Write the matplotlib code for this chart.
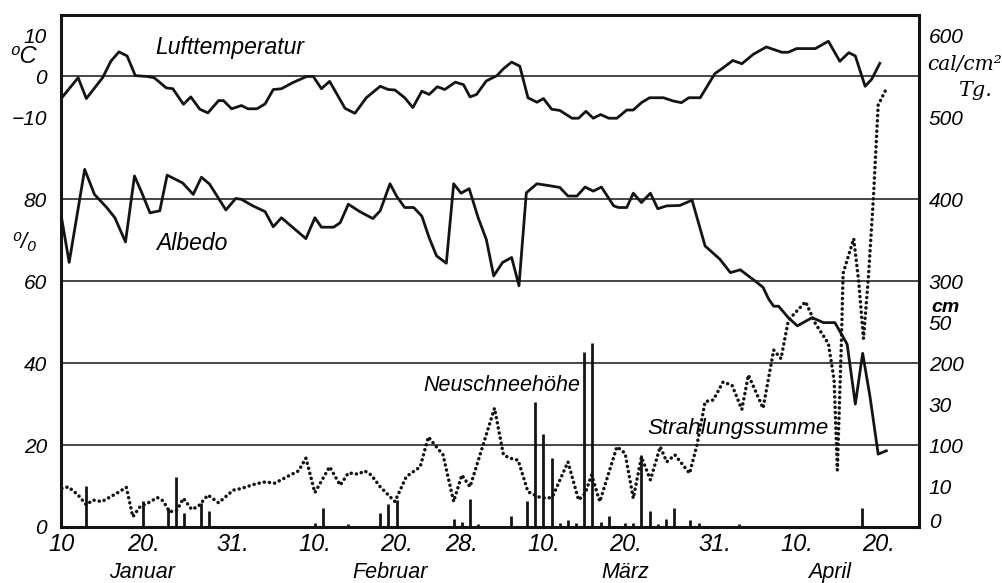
import matplotlib
matplotlib.use("Agg")
import matplotlib.pyplot as plt
from matplotlib.transforms import blended_transform_factory

plt.rcParams['font.family'] = ['Liberation Sans', 'DejaVu Sans']
plt.rcParams['font.style'] = 'italic'

# Tage ab 10. Januar
temp_days = [0, 2, 3, 5, 6, 7, 8, 9, 10.4, 11.3, 12.8, 13.6, 14.9, 15.8, 16.9, 17.9, 19.2,
             19.8, 20.8, 22, 22.8, 23.9, 24.9, 25.9, 26.9, 28.3, 30, 30.8, 31.8, 32.8, 34.7,
             35.9, 37.3, 39, 40, 40.8, 42, 43, 44.1, 45, 46, 46.9, 48.2, 49.2, 50, 50.8, 52,
             53.3, 54.1, 55.1, 56.1, 57.1, 58.2, 59, 60, 61, 62.5, 63.3, 64.2, 65.1, 66, 67,
             68, 69.2, 70, 71, 72, 73.7, 74.9, 75.9, 76.8, 78.2, 80, 81, 82.2, 83.3, 84.7,
             86.3, 88.2, 89, 90, 92.3, 93.9, 95.3, 96.4, 97.2, 98.4, 99.2, 100.2]
temp_c = [-5.2, -0.3, -5.4, -0.3, 3.7, 6.0, 5.0, 0.2, 0.0, -0.3, -2.8, -3.0, -6.8, -5.0, -8.0,
          -8.9, -5.9, -5.9, -7.9, -7.1, -7.9, -7.9, -6.7, -3.2, -3.0, -1.5, 0.0, 0.0, -3.0,
          -1.2, -7.8, -9.0, -5.2, -2.4, -3.2, -3.3, -5.2, -7.6, -3.6, -4.4, -2.5, -3.2, -1.4,
          -2.0, -5.0, -4.4, -1.1, 0.2, 1.9, 3.5, 2.5, -5.2, -6.3, -5.4, -8.0, -8.3, -10.2,
          -10.2, -8.5, -10.2, -9.3, -10.2, -10.2, -8.2, -8.2, -6.4, -5.2, -5.2, -6.0, -6.4,
          -5.2, -5.2, 0.7, 2.1, 3.9, 3.1, 5.4, 7.2, 5.9, 5.9, 6.8, 6.8, 8.6, 3.7, 5.8, 5.0,
          -2.4, -0.7, 3.2]

albedo_days = [0, 0.9, 2.8, 4, 5.5, 6.5, 7.8, 8.9, 9.8, 10.8, 12, 12.9, 14.8, 16.1, 17.1, 18.1,
               20.1, 21.3, 22, 23.4, 24.9, 25.9, 26.9, 29.9, 31, 31.8, 33.3, 34.1, 35.1, 36.5,
               38.1, 39, 40.2, 41, 42, 43.1, 44.1, 45, 45.9, 47.1, 48, 48.9, 49.9, 51, 52, 52.9,
               54, 55.1, 56, 56.9, 58.2, 59.8, 61, 62, 63.1, 64.1, 65.1, 66.1, 67.6, 68.2, 69.2,
               70, 71, 72.1, 73, 74.1, 75.7, 77.2, 78.8, 80.6, 81.9, 83.1, 84.9, 85.9, 86.6,
               87.2, 87.8, 89, 90.1, 91.9, 93.3, 94.7, 95.5, 96.2, 97.2, 98.1, 99, 100, 101]
albedo_pct = [75.1, 64.6, 87.3, 81.2, 78.0, 75.5, 69.6, 85.7, 81.6, 76.7, 77.2, 85.9, 84.0, 81.2,
              85.4, 83.7, 77.4, 80.2, 80.0, 78.4, 77.0, 73.3, 75.5, 70.4, 75.5, 73.2, 73.2, 74.3,
              78.8, 77.0, 75.3, 77.2, 83.8, 80.8, 78.0, 78.0, 75.9, 70.6, 66.2, 64.4, 83.8, 81.5,
              82.6, 75.5, 70.2, 61.3, 64.6, 65.8, 58.9, 81.6, 83.8, 83.3, 82.9, 80.8, 80.8, 83.0,
              82.0, 83.0, 78.4, 78.0, 78.0, 81.5, 79.2, 81.5, 77.7, 78.4, 78.5, 79.8, 68.6, 65.4,
              62.1, 62.8, 60.1, 58.5, 55.6, 53.9, 53.9, 51.1, 49.1, 51.1, 49.9, 49.9, 47.1, 44.6,
              30.0, 42.4, 31.8, 17.8, 18.6]

rad_days = [0, 0.8, 2, 3, 3.8, 4.9, 6.7, 7.9, 8.7, 9.6, 10.6, 11.7, 12.4, 13.2, 14.1, 14.9,
            15.9, 16.7, 17.9, 19.2, 21, 22, 23.7, 24.9, 26.1, 27.7, 29, 29.9, 31, 32.8, 34.1,
            35.1, 36.3, 37.1, 37.9, 39, 40, 40.8, 42.2, 43.9, 44.9, 45.7, 46.7, 48, 49, 50,
            51.6, 53, 54.1, 54.9, 55.9, 57.1, 58.6, 59.6, 60.2, 62, 63.3, 64.1, 64.9, 65.9, 68,
            69, 70, 71, 72.1, 73.3, 74.1, 75.1, 76.9, 77.8, 78.8, 79.8, 81, 82.1, 83.3, 84.1,
            85.9, 87.2, 88.1, 89, 91.1, 92.3, 93.9, 94.6, 95, 95.5, 95.7, 97, 97.6, 98.2, 98.8,
            99.4, 100, 100.9, 101.2]
rad_cal = [47, 49, 39, 27, 33, 31, 41, 48.5, 12.5, 25, 29.5, 36, 32, 18.5, 20.5, 35, 21.5, 25,
           39, 29.5, 45, 47, 52.5, 55, 53.5, 62, 68.5, 84, 42, 73.5, 51, 66, 64.5, 68.5, 63.5,
           49, 39, 31, 61.5, 73.5, 110, 100, 88, 31, 63.5, 49, 100, 145, 88, 84, 81.5, 43, 36,
           35, 39, 79.5, 33, 41, 63.5, 31, 98, 90, 35, 85.5, 57.5, 98, 79.5, 88, 65.5, 100, 153,
           155, 177, 173, 143.5, 185.5, 145, 216, 205.5, 252.5, 275, 248.5, 224, 179.5, 69.5,
           228, 309.5, 352, 301, 230, 305, 399, 515, 533, 537]

snow_days = [3, 10, 13, 14, 15, 17, 18, 31, 32, 35, 39, 40, 41, 48, 49, 50, 51, 55, 57, 58, 59,
             60, 61, 62, 63, 64, 65, 66, 67, 69, 70, 71, 72, 73, 74, 75, 77, 78, 83, 98]
snow_cm = [10, 6.4, 4.7, 12.1, 3.3, 5.8, 3.9, 0.9, 4.7, 0.7, 3.5, 5.5, 6.6, 1.9, 1.1, 6.8, 0.8,
           2.8, 6.4, 30.6, 22.8, 16.9, 1.0, 1.7, 1.0, 42.8, 45.0, 1.1, 2.8, 1.0, 1.0, 17.6, 3.9,
           0.7, 1.9, 4.6, 1.7, 1.0, 0.7, 4.6]

date_ticks = [0, 10, 21, 31, 41, 49, 59, 69, 80, 90, 100]
date_labels = ['10', '20.', '31.', '10.', '20.', '28.', '10.', '20.', '31.', '10.', '20.']
months = ['Januar', 'Februar', 'März', 'April']
month_pos = [9.8, 40.2, 69, 94.1]

ink = '#141414'
rect = [61 / 1003, 56 / 583, 858 / 1003, 512 / 583]

fig = plt.figure(figsize=(10.03, 5.83), dpi=100)
ax = fig.add_axes(rect)                       # Albedo %, Schnee cm
ax_t = fig.add_axes(rect, frameon=False)      # Temperatur
ax_r = fig.add_axes(rect, frameon=False)      # Strahlung
for a in (ax, ax_t, ax_r):
    a.set_xlim(-0.1, 105)
    a.patch.set_visible(False)
ax.set_ylim(0, 125)
ax_t.set_ylim(-110, 15)
ax_r.set_ylim(0, 625)

for s in ax.spines.values():
    s.set_linewidth(2.2)
    s.set_color(ink)

for g in [20, 40, 60, 80, 110]:
    ax.axhline(g, color=ink, lw=1.1, zorder=1)

ax.vlines(snow_days, 0, snow_cm, color=ink, lw=2.0, zorder=2)
ax.plot(albedo_days, albedo_pct, color=ink, lw=2.0, solid_joinstyle='round', zorder=3)
ax_t.plot(temp_days, temp_c, color=ink, lw=2.0, solid_joinstyle='round', zorder=3)
ax_r.plot(rad_days, rad_cal, color=ink, lw=2.5, linestyle=(0, (0.05, 1.45)),
          dash_capstyle='round', zorder=3)

tick_font = dict(fontsize=15, fontstyle='italic')

# links: Albedo
ax.set_yticks([0, 20, 40, 60, 80])
ax.set_yticklabels(['0', '20', '40', '60', '80'], **tick_font)
ax.tick_params(axis='y', left=True, right=False, length=0, pad=10)
# unten: Datum
ax.set_xticks(date_ticks)
ax.set_xticklabels(date_labels, fontsize=17, fontstyle='italic')
ax.tick_params(axis='x', length=0, pad=4)

# links: Temperatur
ax_t.set_yticks([-10, 0, 10])
ax_t.set_yticklabels(['\u221210', '0', '10'], **tick_font)
ax_t.set_yticks([-10, 10], minor=True)
ax_t.tick_params(axis='y', which='major', length=0, pad=10)
ax_t.tick_params(axis='y', which='minor', direction='in', length=12, width=1.4, color=ink)
ax_t.set_xticks([])

# rechts: Strahlung und Schnee
ax_r.yaxis.tick_right()
ax_r.set_yticks([100, 200, 300, 400, 500, 600])
ax_r.set_yticklabels(['100', '200', '300', '400', '500', '600'], **tick_font)
ax_r.set_yticks([500, 600], minor=True)
ax_r.tick_params(axis='y', which='major', length=0, pad=7)
ax_r.tick_params(axis='y', which='minor', direction='in', length=13, width=1.4, color=ink)
ax_r.set_xticks([])

ax_s = fig.add_axes(rect, frameon=False)
ax_s.set_xlim(-0.1, 105)
ax_s.set_ylim(0, 125)
ax_s.patch.set_visible(False)
ax_s.yaxis.tick_right()
ax_s.set_yticks([1.5, 10, 30, 50])
ax_s.set_yticklabels(['0', '10', '30', '50'], **tick_font)
ax_s.set_yticks([10, 30, 50], minor=True)
ax_s.tick_params(axis='y', which='major', length=0, pad=7)
ax_s.tick_params(axis='y', which='minor', direction='in', length=13, width=1.4, color=ink)
ax_s.set_xticks([])

# Einheiten
ax.text(-0.028, 110 + 4.8, '\u2070C', transform=blended_transform_factory(ax.transAxes, ax.transData),
        ha='right', va='center', fontsize=17)
ax.text(-0.028, 69.5, '\u2070/\u2080', transform=blended_transform_factory(ax.transAxes, ax.transData),
        ha='right', va='center', fontsize=16)
ax.text(1.01, 113, 'cal/cm\u00b2', transform=blended_transform_factory(ax.transAxes, ax.transData),
        ha='left', va='center', fontsize=14.5, family=['DejaVu Serif'])
ax.text(1.045, 106.5, 'Tg.', transform=blended_transform_factory(ax.transAxes, ax.transData),
        ha='left', va='center', fontsize=15, family=['DejaVu Serif'])
ax.text(1.015, 53.5, 'cm', transform=blended_transform_factory(ax.transAxes, ax.transData),
        ha='left', va='center', fontsize=14, fontweight='bold')

# Beschriftungen
ax.text(11.4, 117, 'Lufttemperatur', ha='left', va='center', fontsize=16.5)
ax.text(11.6, 69.3, 'Albedo', ha='left', va='center', fontsize=16.5)
ax.text(44.3, 34.6, 'Neuschneehöhe', ha='left', va='center', fontsize=15.5)
ax.text(71.7, 24, 'Strahlungssumme', ha='left', va='center', fontsize=16.2)

trans = blended_transform_factory(ax.transData, ax.transAxes)
for m, p in zip(months, month_pos):
    ax.text(p, -0.088, m, transform=trans, ha='center', va='center', fontsize=15.5)

fig.savefig('out.png', dpi=100, facecolor='white')
